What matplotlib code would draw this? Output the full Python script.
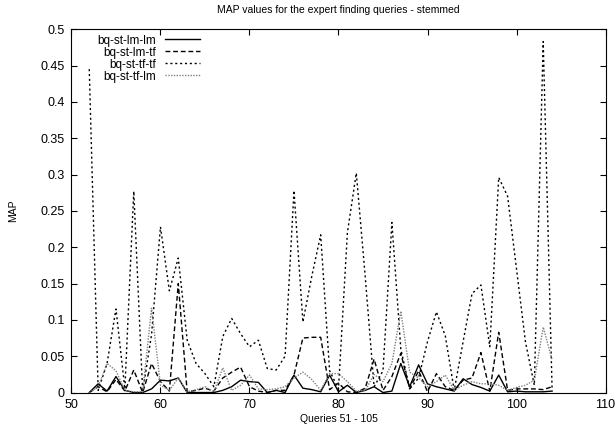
import matplotlib
matplotlib.use("Agg")
import matplotlib.pyplot as plt
from matplotlib.ticker import FormatStrFormatter, MultipleLocator

plt.rcParams['font.family'] = ['Liberation Sans', 'DejaVu Sans']

queries = list(range(52, 105))

lm_lm = [0, 0.012, 0.002, 0.022, 0.003, 0, 0, 0.005, 0.017, 0.016,
         0.020, 0, 0, 0, 0, 0.003, 0.008, 0.017, 0.015, 0.014,
         0, 0.003, 0, 0.024, 0.006, 0.004, 0.001, 0.024, 0.001, 0.010,
         0, 0.003, 0.008, 0, 0.002, 0.040, 0.008, 0.038, 0.012, 0.008,
         0.005, 0.002, 0.019, 0.011, 0.007, 0.002, 0.024, 0.001, 0.002, 0.001,
         0.001, 0.001, 0.002]

lm_tf = [0, 0.008, 0.001, 0.018, 0.002, 0.031, 0, 0.040, 0.015, 0.002,
         0.150, 0.001, 0.003, 0.006, 0.002, 0.020, 0.028, 0.035, 0.008, 0.002,
         0, 0.003, 0.003, 0.024, 0.075, 0.076, 0.076, 0.004, 0.013, 0.001,
         0, 0.006, 0.046, 0.003, 0.022, 0.054, 0.005, 0.030, 0.001, 0.026,
         0.008, 0.003, 0.017, 0.020, 0.055, 0.002, 0.083, 0.003, 0.005, 0.005,
         0.005, 0.004, 0.008]

tf_tf = [0.445, 0.003, 0.040, 0.115, 0.005, 0.277, 0.001, 0.080, 0.228, 0.140,
         0.185, 0.072, 0.040, 0.026, 0.008, 0.077, 0.102, 0.081, 0.063, 0.072,
         0.033, 0.031, 0.050, 0.278, 0.097, 0.160, 0.217, 0.030, 0.005, 0.220,
         0.302, 0.160, 0.008, 0.030, 0.234, 0.060, 0.005, 0.020, 0.070, 0.111,
         0.078, 0.003, 0.070, 0.136, 0.148, 0.063, 0.296, 0.270, 0.170, 0.070,
         0.010, 0.483, 0.003]

tf_lm = [0, 0.008, 0.040, 0.030, 0.003, 0.001, 0.001, 0.116, 0.010, 0.003,
         0.020, 0.001, 0.004, 0.008, 0.001, 0.034, 0.003, 0.010, 0.024, 0.005,
         0.004, 0.005, 0.008, 0.020, 0.028, 0.018, 0.003, 0.026, 0.026, 0.015,
         0.002, 0.003, 0.025, 0.015, 0.040, 0.112, 0.028, 0.020, 0.008, 0.015,
         0.024, 0.003, 0.010, 0.015, 0.012, 0.012, 0.010, 0.003, 0.007, 0.010,
         0.017, 0.090, 0.045]

labels = ["bq-st-lm-lm", "bq-st-lm-tf", "bq-st-tf-tf", "bq-st-tf-lm"]
title = "MAP values for the expert finding queries - stemmed"
xlabel = "Queries 51 - 105"
ylabel = "MAP"

fig = plt.figure(figsize=(6.16, 4.29), dpi=100)
ax = fig.add_axes([0.116, 0.085, 0.867, 0.847])

ax.plot(queries, lm_lm, color='black', lw=1.0, ls='-', label=labels[0])
ax.plot(queries, lm_tf, color='black', lw=1.0, ls=(0, (3.5, 2.0)), label=labels[1])
ax.plot(queries, tf_tf, color='black', lw=1.0, ls=(0, (1.5, 2.0)), label=labels[2])
ax.plot(queries, tf_lm, color='#808080', lw=1.0, ls=(0, (1.0, 1.0)), label=labels[3])

ax.set_xlim(50, 110)
ax.set_ylim(0, 0.5)
ax.xaxis.set_major_locator(MultipleLocator(10))
ax.yaxis.set_major_locator(MultipleLocator(0.05))
ax.yaxis.set_major_formatter(FormatStrFormatter('%g'))
ax.tick_params(direction='in', top=True, right=True, length=4, width=0.8,
               labelsize=9, pad=5)
for s in ax.spines.values():
    s.set_linewidth(0.8)

ax.set_title(title, fontsize=7.5, pad=12)
ax.set_xlabel(xlabel, fontsize=7.5, labelpad=2)
ax.set_ylabel(ylabel, fontsize=7.5, labelpad=16)

leg = ax.legend(loc='upper right', bbox_to_anchor=(0.2406, 0.985), frameon=False,
                markerfirst=False, fontsize=8.5, handlelength=3.0,
                labelspacing=0.0, handletextpad=0.7, borderaxespad=0.0,
                borderpad=0.0)
for col in leg._legend_box._children[-1]._children:
    col.align = 'right'

fig.savefig("out.png", dpi=100)
